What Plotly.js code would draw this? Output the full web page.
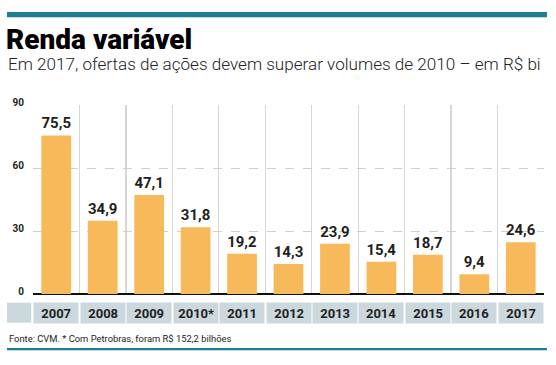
<!DOCTYPE html>
<html>
<head>
<meta charset="utf-8">
<script src="https://cdn.plot.ly/plotly-3.0.1.min.js"></script>
<style>
html,body{margin:0;padding:0;background:#fff;}
#chart{width:556px;height:365px;}
</style>
</head>
<body>
<div id="chart"></div>
<script>
const categories = ["2007","2008","2009","2010*","2011","2012","2013","2014","2015","2016","2017"];
const values = [75.5, 34.9, 47.1, 31.8, 19.2, 14.3, 23.9, 15.4, 18.7, 9.4, 24.6];
const yTicks = [0, 30, 60, 90];

const titleText = "Renda variável";
const subtitleText = "Em 2017, ofertas de ações devem superar volumes de 2010 – em R$ bi";
const sourceText = "Fonte: CVM. * Com Petrobras, foram R$ 152,2 bilhões";

const W = 556, H = 365;
const plotL = 33, plotR = 544, plotT = 105, plotB = 294;
const pw = plotR - plotL, ph = plotB - plotT;
const px = x => (x - plotL) / pw;
const py = y => (plotB - y) / ph;

const teal = "#1b7e93";
const bandColor = "#cbd8de";
const dark = "#231f20";

const trace = {
  type: "bar",
  x: categories,
  y: values,
  marker: {color: "#f8b95b", line: {width: 0}},
  width: 0.64,
  texttemplate: "%{y:.1f}",
  textposition: "outside",
  cliponaxis: false,
  textfont: {family: "Roboto", size: 15, color: dark, weight: 700},
  hoverinfo: "skip"
};

const annotations = [
  {xref: "paper", yref: "paper", x: px(6), y: py(64), xanchor: "left", yanchor: "middle",
   text: subtitleText, showarrow: false, font: {family: "Roboto", size: 17.1, color: "#222", weight: 300}},
  {xref: "paper", yref: "paper", x: px(7), y: py(338.5), xanchor: "left", yanchor: "middle",
   text: sourceText, showarrow: false, font: {family: "Roboto", size: 9.4, color: "#222"}}
];
categories.forEach((c, i) => {
  annotations.push({
    xref: "x", yref: "paper", x: i, y: py(312.7), xanchor: "center", yanchor: "middle",
    text: "<b>" + c + "</b>", showarrow: false, width: 44.3, height: 20, borderpad: 0,
    bgcolor: bandColor, font: {family: "Roboto", size: 13, color: dark}
  });
});

const shapes = [
  {type: "rect", xref: "paper", yref: "paper", x0: px(7), x1: px(547), y0: py(12), y1: py(17.3),
   fillcolor: teal, line: {width: 0}},
  {type: "rect", xref: "paper", yref: "paper", x0: px(7), x1: px(547), y0: py(348), y1: py(350.2),
   fillcolor: teal, line: {width: 0}},
  {type: "rect", xref: "paper", yref: "paper", x0: px(7), x1: px(31.2), y0: py(302.7), y1: py(322.7),
   fillcolor: bandColor, line: {width: 0}}
];

const layout = {
  width: W, height: H,
  margin: {l: plotL, r: W - plotR, t: plotT, b: H - plotB, pad: 0},
  paper_bgcolor: "#fff", plot_bgcolor: "#fff",
  separators: ",.",
  showlegend: false,
  title: {text: titleText, x: 6 / W, xref: "container", xanchor: "left",
          y: 1 - 29.5 / H, yref: "container", yanchor: "top",
          font: {family: "Roboto", size: 28, color: "#000", weight: 900}},
  xaxis: {
    type: "category", range: [-0.5, categories.length - 0.5],
    showgrid: true, tickson: "boundaries", gridcolor: "#d6d6d6", gridwidth: 1.2,
    showticklabels: false, ticks: "", showline: false, zeroline: false, fixedrange: true
  },
  yaxis: {
    range: [0, 90], tickvals: yTicks, ticktext: yTicks.map(String),
    showgrid: true, gridcolor: "#cfcfcf", griddash: "dash", gridwidth: 1,
    zeroline: true, zerolinecolor: "#111", zerolinewidth: 2,
    showline: false, ticks: "", ticklabelstandoff: 8, ticklabelshift: -3,
    tickfont: {family: "Roboto", size: 10, color: dark, weight: 700}, fixedrange: true
  },
  annotations: annotations,
  shapes: shapes
};

Plotly.newPlot("chart", [trace], layout, {displayModeBar: false, staticPlot: true});
</script>
</body>
</html>
